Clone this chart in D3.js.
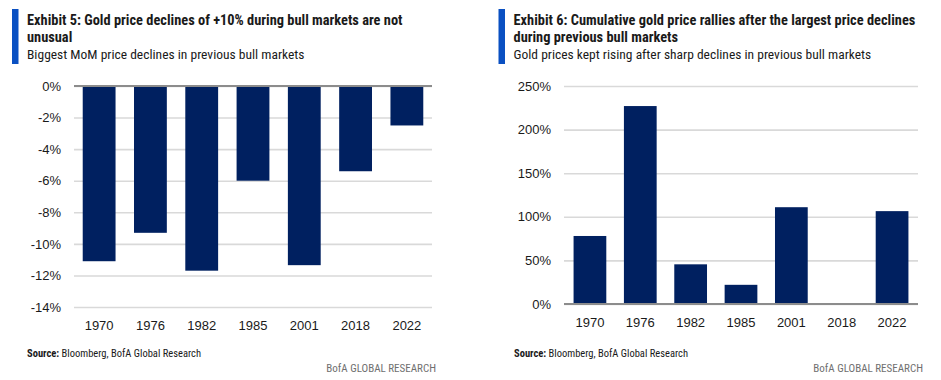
<!DOCTYPE html>
<html>
<head>
<meta charset="utf-8">
<script src="https://cdn.jsdelivr.net/npm/d3@7"></script>
<style>
  body { margin: 0; background: #fff; }
  svg text { font-family: "Liberation Sans Narrow", "Roboto Condensed", "Liberation Sans", sans-serif; fill: #1a1a1a; }
  svg text.axis-lbl { font-family: "Liberation Sans", Arial, sans-serif; }
</style>
</head>
<body>
<svg id="chart" width="941" height="380"></svg>
<script>
// chart data
const years = ['1970', '1976', '1982', '1985', '2001', '2018', '2022'];
const momDeclines = [-11.1, -9.3, -11.7, -6.0, -11.35, -5.4, -2.5];
const rallies = [78, 227, 45.5, 22, 111, 1, 106.5];
const leftTicks = [0, -2, -4, -6, -8, -10, -12, -14];
const rightTicks = [0, 50, 100, 150, 200, 250];

const NAVY = '#002060',
      ACCENT = '#0a50c2',
      GRID = '#d9d9d9',
      ZERO = '#8c8c8c';

const svg = d3.select('#chart');

const header = (x0, lines, sub) => {
   svg.append('rect')
      .attr('x', x0).attr('y', 9)
      .attr('width', 6.5).attr('height', 55)
      .attr('fill', ACCENT);
   lines.forEach((t, i) => {
      svg.append('text')
         .attr('x', x0 + 15).attr('y', 25 + i * 17)
         .attr('font-size', 14.4)
         .attr('font-weight', 'bold')
         .text(t);
   });
   svg.append('text')
      .attr('x', x0 + 15).attr('y', 59)
      .attr('font-size', 13.5)
      .text(sub);
}

const footer = (x0, x1) => {
   let s = svg.append('text')
      .attr('x', x0).attr('y', 357)
      .attr('font-size', 10.5);
   s.append('tspan').attr('font-weight', 'bold').text('Source:');
   s.append('tspan').text(' Bloomberg, BofA Global Research');
   svg.append('text')
      .attr('x', x1).attr('y', 372)
      .attr('font-size', 11)
      .attr('text-anchor', 'end')
      .style('fill', '#707070')
      .text('BofA GLOBAL RESEARCH');
}

const drawBars = (opts) => {
   const x = d3.scaleBand()
      .domain(years)
      .range([opts.left, opts.right])
      .paddingInner(opts.pi)
      .paddingOuter(opts.po);
   const y = d3.scaleLinear()
      .domain(opts.domain)
      .range([opts.bottom, opts.top]);

   const g = svg.append('g');

   // gridlines + tick labels
   g.append('g')
      .attr('transform', 'translate(' + opts.left + ',0)')
      .call(d3.axisLeft(y).tickValues(opts.ticks).tickSize(-(opts.right - opts.left)).tickFormat(d => d + '%'))
      .call(a => a.select('.domain').remove())
      .call(a => a.selectAll('.tick line').attr('stroke', GRID).attr('stroke-width', 1.6))
      .call(a => a.selectAll('.tick text')
         .attr('class', 'axis-lbl')
         .attr('x', -13)
         .attr('font-size', 13)
         .attr('font-family', null)
         .attr('fill', null));

   g.selectAll('rect.bar')
      .data(opts.values)
      .join('rect')
      .attr('class', 'bar')
      .attr('x', (d, i) => x(years[i]))
      .attr('width', x.bandwidth())
      .attr('y', d => y(Math.max(0, d)))
      .attr('height', d => Math.abs(y(d) - y(0)))
      .attr('fill', NAVY);

   // zero line
   g.append('line')
      .attr('x1', opts.left).attr('x2', opts.right)
      .attr('y1', y(0)).attr('y2', y(0))
      .attr('stroke', ZERO)
      .attr('stroke-width', 2);

   g.append('g')
      .selectAll('text')
      .data(years)
      .join('text')
      .attr('class', 'axis-lbl')
      .attr('x', d => x(d) + x.bandwidth() / 2)
      .attr('y', opts.labelY)
      .attr('text-anchor', 'middle')
      .attr('font-size', 13)
      .text(d => d);
}

header(12, ['Exhibit 5: Gold price declines of +10% during bull markets are not', 'unusual'],
       'Biggest MoM price declines in previous bull markets');
header(498.5, ['Exhibit 6: Cumulative gold price rallies after the largest price declines', 'during previous bull markets'],
       'Gold prices kept rising after sharp declines in previous bull markets');

drawBars({ left: 74, right: 432, top: 86, bottom: 307, domain: [-14, 0], ticks: leftTicks,
           values: momDeclines, pi: 0.36, po: 0.17, labelY: 330 });
drawBars({ left: 564, right: 918, top: 86, bottom: 304, domain: [0, 250], ticks: rightTicks,
           values: rallies, pi: 0.35, po: 0.19, labelY: 327 });

footer(27, 436);
footer(514, 923);
</script>
</body>
</html>
